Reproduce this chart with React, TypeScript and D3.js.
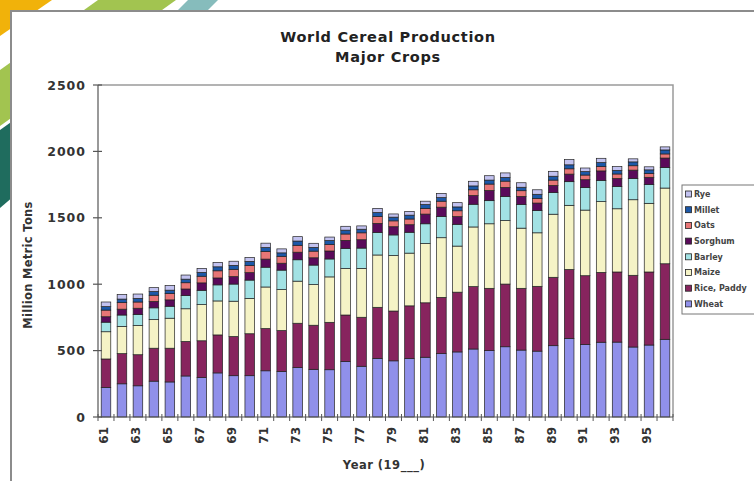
import React from "react";
import * as d3 from "d3";

// Years 1961–1996
const years = [
  1961, 1962, 1963, 1964, 1965, 1966, 1967, 1968, 1969, 1970, 1971, 1972,
  1973, 1974, 1975, 1976, 1977, 1978, 1979, 1980, 1981, 1982, 1983, 1984,
  1985, 1986, 1987, 1988, 1989, 1990, 1991, 1992, 1993, 1994, 1995, 1996,
];

// Production, million metric tons
const wheat = [222, 250, 235, 270, 264, 309, 297, 332, 311, 311, 348, 343, 372, 359, 356, 418, 382, 441, 423, 440, 450, 477, 490, 512, 500, 529, 504, 496, 537, 592, 546, 563, 564, 527, 542, 585];
const rice = [215, 227, 234, 248, 254, 260, 277, 286, 295, 316, 318, 308, 334, 332, 357, 350, 369, 385, 375, 397, 410, 424, 450, 470, 469, 472, 465, 488, 515, 519, 518, 526, 528, 540, 550, 569];
const maize = [205, 205, 220, 215, 226, 246, 272, 256, 266, 266, 313, 308, 317, 306, 342, 350, 368, 394, 418, 397, 446, 449, 347, 449, 486, 478, 453, 403, 475, 483, 494, 533, 476, 569, 517, 570];
const barley = [72, 86, 84, 89, 90, 99, 108, 121, 129, 138, 149, 147, 161, 147, 135, 152, 153, 170, 155, 157, 149, 160, 164, 171, 174, 182, 179, 167, 163, 178, 169, 160, 167, 160, 142, 155];
const sorghum = [41, 44, 46, 48, 48, 50, 56, 52, 56, 56, 61, 52, 57, 55, 60, 60, 63, 68, 62, 57, 73, 70, 58, 66, 77, 68, 60, 57, 54, 57, 60, 71, 61, 63, 54, 71];
const oats = [50, 49, 47, 47, 47, 47, 50, 54, 55, 54, 58, 52, 52, 50, 49, 48, 52, 52, 44, 43, 43, 45, 44, 43, 48, 47, 43, 35, 40, 40, 35, 33, 34, 33, 29, 31];
const millet = [26, 27, 27, 28, 26, 27, 29, 30, 30, 31, 29, 26, 32, 28, 30, 29, 27, 30, 28, 29, 29, 27, 29, 29, 30, 28, 26, 31, 29, 30, 26, 30, 27, 29, 27, 30];
const rye = [35, 35, 33, 29, 35, 31, 30, 33, 31, 30, 33, 30, 33, 31, 26, 29, 25, 31, 24, 28, 25, 32, 32, 35, 33, 34, 34, 34, 37, 39, 27, 32, 29, 23, 23, 23];

const crops = ["Wheat", "Rice, Paddy", "Maize", "Barley", "Sorghum", "Oats", "Millet", "Rye"];
const cropValues = [wheat, rice, maize, barley, sorghum, oats, millet, rye];
const cropColors = ["#9090ea", "#87245e", "#f5f3c6", "#a2e2e4", "#5a0a5a", "#e87676", "#1c58a8", "#c2c2f0"];

const yTicks = [0, 500, 1000, 1500, 2000, 2500];
const xTickLabels = ["61", "63", "65", "67", "69", "71", "73", "75", "77", "79", "81", "83", "85", "87", "89", "91", "93", "95"];

const W = 754;
const H = 481;
const plot = { left: 98, right: 673, top: 85, bottom: 417 };
const FONT = "'DejaVu Sans', Verdana, sans-serif";

export default function App() {
  const rows = years.map((y, i) => {
    const r: Record<string, number> = { year: y };
    crops.forEach((c, k) => (r[c] = cropValues[k][i]));
    return r;
  });
  const series = d3.stack<Record<string, number>>().keys(crops)(rows);

  const x = d3
    .scaleBand<number>()
    .domain(years)
    .range([plot.left, plot.right])
    .paddingInner(0.4)
    .paddingOuter(0.2);
  const y = d3.scaleLinear().domain([0, 2500]).range([plot.bottom, plot.top]);
  const step = x.step();
  const color = d3.scaleOrdinal<string, string>().domain(crops).range(cropColors);

  const legendItems = crops.slice().reverse();

  return (
    <svg
      width={W}
      height={H}
      style={{ position: "absolute", left: 0, top: 0, display: "block" }}
      fontFamily={FONT}
    >
      {/* backdrop stripes */}
      <rect x={0} y={0} width={W} height={H} fill="#ffffff" />
      <polygon points="0,0 52,0 0,36" fill="#f1b20a" />
      <polygon points="98,0 176,0 0,126 0,70" fill="#a2c450" />
      <polygon points="188,0 218,0 206,12 176,12" fill="#86bcbc" />
      <polygon points="0,130 14,120 14,196 0,208" fill="#1f6c5e" />

      {/* frame */}
      <rect x={11} y={11} width={W + 10} height={H + 10} fill="#ffffff" stroke="#8c8c8c" strokeWidth={2} />

      {/* titles */}
      <text x={388} y={42} textAnchor="middle" fontSize={14.5} letterSpacing={0.7} fontWeight="bold" fill="#222">
        World Cereal Production
      </text>
      <text x={388} y={62} textAnchor="middle" fontSize={14.5} letterSpacing={0.7} fontWeight="bold" fill="#222">
        Major Crops
      </text>

      {/* plot frame */}
      <path
        d={`M${plot.left},${plot.top}H${plot.right}V${plot.bottom}`}
        fill="none"
        stroke="#9a9a9a"
        strokeWidth={1.5}
      />

      {/* bars */}
      {series.map((s) => (
        <g key={s.key} fill={color(s.key)}>
          {s.map((d, i) => (
            <rect
              key={i}
              x={x(years[i])}
              y={y(d[1])}
              width={x.bandwidth()}
              height={y(d[0]) - y(d[1])}
              stroke="#222"
              strokeWidth={0.7}
            />
          ))}
        </g>
      ))}

      {/* y axis */}
      <line x1={plot.left} x2={plot.left} y1={plot.top} y2={plot.bottom} stroke="#555" strokeWidth={1.2} />
      {yTicks.map((t) => (
        <g key={t}>
          <line x1={plot.left - 5} x2={plot.left + 4} y1={y(t)} y2={y(t)} stroke="#555" strokeWidth={1.2} />
          <text x={86} y={y(t)} dy="0.36em" textAnchor="end" fontSize={12.5} letterSpacing={1} fontWeight="bold" fill="#333">
            {t}
          </text>
        </g>
      ))}
      <text
        transform={`translate(32,${(plot.top + plot.bottom) / 2 + 14}) rotate(-90)`}
        textAnchor="middle"
        fontSize={11.5}
        letterSpacing={0.3}
        fontWeight="bold"
        fill="#333"
      >
        Million Metric Tons
      </text>

      {/* x axis */}
      <line x1={plot.left} x2={plot.right} y1={plot.bottom} y2={plot.bottom} stroke="#555" strokeWidth={1.2} />
      {d3.range(years.length + 1).map((i) => (
        <line
          key={i}
          x1={plot.left + i * step}
          x2={plot.left + i * step}
          y1={plot.bottom - 3}
          y2={plot.bottom + 4}
          stroke="#555"
          strokeWidth={1}
        />
      ))}
      {xTickLabels.map((lab) => {
        const yr = 1900 + Number(lab);
        const cx = (x(yr) ?? 0) + x.bandwidth() / 2 - 2;
        return (
          <text
            key={lab}
            transform={`translate(${cx},${plot.bottom + 10}) rotate(-90)`}
            dy="0.36em"
            textAnchor="end"
            fontSize={12}
            fontWeight="bold"
            fill="#333"
          >
            {lab}
          </text>
        );
      })}
      <text x={384} y={469} textAnchor="middle" fontSize={11.5} letterSpacing={0.5} fontWeight="bold" fill="#333">
        Year (19___)
      </text>

      {/* legend */}
      <rect x={682} y={185} width={90} height={129} fill="#ffffff" stroke="#777" strokeWidth={1} />
      {legendItems.map((c, i) => {
        const cy = 194 + i * 15.7;
        return (
          <g key={c}>
            <rect x={685.5} y={cy - 3} width={6} height={6} fill={color(c)} stroke="#222" strokeWidth={0.8} />
            <text x={694} y={cy} dy="0.35em" fontSize={8} fontWeight="bold" fill="#444">
              {c}
            </text>
          </g>
        );
      })}
    </svg>
  );
}
